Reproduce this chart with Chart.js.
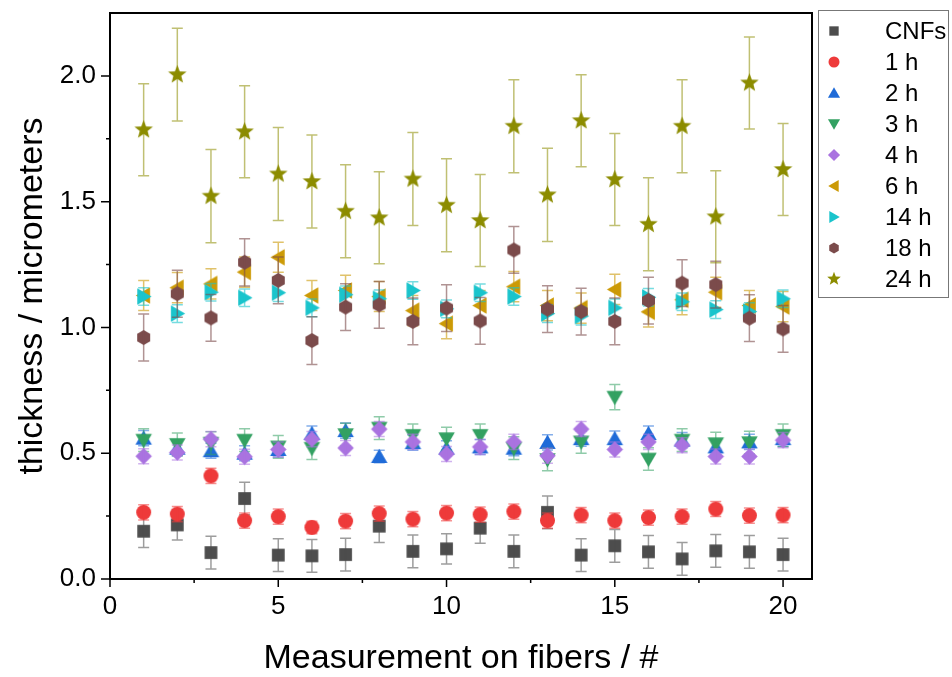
<!DOCTYPE html>
<html lang="en">
<head>
    <meta charset="UTF-8">
    <title>Fiber thickness</title>
    <script src="https://cdn.jsdelivr.net/npm/chart.js@4/dist/chart.umd.min.js"></script>
    <style>
        body { margin: 0; background: #fff; }
        #wrap { width: 952px; height: 677px; }
    </style>
</head>
<body>
    <div id="wrap"><canvas id="thicknessChart" width="952" height="677"></canvas></div>

    <script>
        // measurement number on the fiber
        const fibers = [1, 2, 3, 4, 5, 6, 7, 8, 9, 10, 11, 12, 13, 14, 15, 16, 17, 18, 19, 20];

        const seriesNames = ['CNFs', '1 h', '2 h', '3 h', '4 h', '6 h', '14 h', '18 h', '24 h'];

        // mean thickness (micrometers)
        const cnfs  = [0.19, 0.215, 0.105, 0.32, 0.095, 0.092, 0.097, 0.21, 0.11, 0.12, 0.202, 0.11, 0.265, 0.095, 0.132, 0.108, 0.08, 0.112, 0.108, 0.097];
        const h1    = [0.265, 0.258, 0.41, 0.232, 0.248, 0.205, 0.23, 0.26, 0.238, 0.262, 0.256, 0.268, 0.232, 0.254, 0.232, 0.244, 0.248, 0.278, 0.252, 0.254];
        const h2    = [0.56, 0.52, 0.51, 0.50, 0.515, 0.578, 0.59, 0.487, 0.542, 0.52, 0.525, 0.52, 0.543, 0.558, 0.558, 0.578, 0.552, 0.525, 0.545, 0.558];
        const h3    = [0.552, 0.535, 0.54, 0.552, 0.525, 0.52, 0.574, 0.60, 0.571, 0.558, 0.571, 0.52, 0.475, 0.545, 0.723, 0.477, 0.552, 0.538, 0.542, 0.571];
        const h4    = [0.488, 0.503, 0.556, 0.486, 0.515, 0.556, 0.521, 0.596, 0.545, 0.497, 0.525, 0.545, 0.49, 0.596, 0.515, 0.545, 0.532, 0.487, 0.487, 0.552];
        const h6    = [1.127, 1.158, 1.173, 1.22, 1.279, 1.127, 1.147, 1.123, 1.067, 1.015, 1.087, 1.162, 1.087, 1.077, 1.151, 1.062, 1.11, 1.14, 1.087, 1.083];
        const h14   = [1.123, 1.055, 1.14, 1.118, 1.138, 1.078, 1.13, 1.114, 1.147, 1.074, 1.138, 1.123, 1.055, 1.045, 1.078, 1.12, 1.102, 1.071, 1.063, 1.114];
        const h18   = [0.96, 1.134, 1.038, 1.259, 1.187, 0.948, 1.081, 1.09, 1.024, 1.077, 1.026, 1.308, 1.073, 1.063, 1.024, 1.107, 1.176, 1.17, 1.037, 0.994];
        const h24   = [1.786, 2.005, 1.522, 1.778, 1.61, 1.58, 1.462, 1.436, 1.59, 1.486, 1.425, 1.8, 1.527, 1.822, 1.588, 1.41, 1.8, 1.44, 1.972, 1.628];

        // standard deviations
        const errCnfs = [0.065, 0.06, 0.065, 0.065, 0.065, 0.065, 0.065, 0.065, 0.065, 0.06, 0.06, 0.065, 0.065, 0.065, 0.065, 0.065, 0.065, 0.065, 0.065, 0.065];
        const errH1   = [0.03, 0.03, 0.03, 0.03, 0.03, 0.025, 0.03, 0.03, 0.03, 0.03, 0.03, 0.03, 0.03, 0.03, 0.03, 0.03, 0.03, 0.03, 0.03, 0.03];
        const errH2   = [0.03, 0.03, 0.03, 0.03, 0.03, 0.03, 0.03, 0.025, 0.03, 0.03, 0.03, 0.03, 0.03, 0.03, 0.03, 0.03, 0.03, 0.03, 0.03, 0.03];
        const errH3   = [0.045, 0.045, 0.045, 0.045, 0.045, 0.045, 0.045, 0.045, 0.045, 0.045, 0.045, 0.045, 0.045, 0.045, 0.05, 0.045, 0.045, 0.045, 0.045, 0.045];
        const errH4   = [0.03, 0.03, 0.03, 0.03, 0.03, 0.03, 0.03, 0.03, 0.03, 0.03, 0.03, 0.03, 0.03, 0.03, 0.03, 0.03, 0.03, 0.03, 0.03, 0.03];
        const errH6   = [0.06, 0.06, 0.06, 0.06, 0.06, 0.06, 0.06, 0.06, 0.06, 0.06, 0.06, 0.06, 0.06, 0.06, 0.06, 0.06, 0.06, 0.06, 0.06, 0.06];
        const errH14  = [0.035, 0.035, 0.035, 0.035, 0.035, 0.035, 0.035, 0.035, 0.035, 0.035, 0.035, 0.035, 0.035, 0.035, 0.035, 0.035, 0.035, 0.035, 0.035, 0.035];
        const errH18  = [0.093, 0.093, 0.093, 0.094, 0.093, 0.095, 0.093, 0.093, 0.093, 0.093, 0.093, 0.093, 0.093, 0.093, 0.093, 0.093, 0.093, 0.093, 0.093, 0.093];
        const errH24  = [0.183, 0.184, 0.185, 0.183, 0.185, 0.185, 0.185, 0.183, 0.185, 0.185, 0.183, 0.185, 0.185, 0.183, 0.183, 0.185, 0.185, 0.183, 0.183, 0.183];

        const values = [cnfs, h1, h2, h3, h4, h6, h14, h18, h24];
        const errors = [errCnfs, errH1, errH2, errH3, errH4, errH6, errH14, errH18, errH24];

        const colors   = ['#4d4d4d', '#ee3a3a', '#1f6bd8', '#33a162', '#aa73e0', '#cc9a06', '#1ac4cc', '#7b4b4b', '#8c8c00'];
        const barColors = ['rgba(77,77,77,0.55)', 'rgba(238,58,58,0.55)', 'rgba(31,107,216,0.55)', 'rgba(51,161,98,0.55)',
                           'rgba(170,115,224,0.55)', 'rgba(204,154,6,0.6)', 'rgba(26,196,204,0.6)', 'rgba(123,75,75,0.6)', 'rgba(140,140,0,0.55)'];
        const shapes = ['square', 'circle', 'up', 'down', 'diamond', 'left', 'right', 'hexagon', 'star'];

        function makeMarker(shape, color, s) {
            const c = document.createElement('canvas');
            const size = Math.ceil(s * 1.4) + 2;
            c.width = size; c.height = size;
            const g = c.getContext('2d');
            const m = size / 2, r = s / 2;
            g.fillStyle = color;
            g.beginPath();
            if (shape === 'square') {
                g.rect(m - r * 0.85, m - r * 0.85, r * 1.7, r * 1.7);
            } else if (shape === 'circle') {
                g.arc(m, m, r, 0, Math.PI * 2);
            } else if (shape === 'up') {
                g.moveTo(m, m - r * 1.05); g.lineTo(m + r * 1.1, m + r * 0.85); g.lineTo(m - r * 1.1, m + r * 0.85);
            } else if (shape === 'down') {
                g.moveTo(m, m + r * 1.05); g.lineTo(m + r * 1.1, m - r * 0.85); g.lineTo(m - r * 1.1, m - r * 0.85);
            } else if (shape === 'left') {
                g.moveTo(m - r * 1.05, m); g.lineTo(m + r * 0.85, m - r * 1.1); g.lineTo(m + r * 0.85, m + r * 1.1);
            } else if (shape === 'right') {
                g.moveTo(m + r * 1.05, m); g.lineTo(m - r * 0.85, m - r * 1.1); g.lineTo(m - r * 0.85, m + r * 1.1);
            } else if (shape === 'diamond') {
                g.moveTo(m, m - r * 1.1); g.lineTo(m + r * 1.1, m); g.lineTo(m, m + r * 1.1); g.lineTo(m - r * 1.1, m);
            } else if (shape === 'hexagon') {
                for (let i = 0; i < 6; i++) {
                    const a = -Math.PI / 2 + i * Math.PI / 3;
                    g.lineTo(m + r * Math.cos(a), m + r * Math.sin(a));
                }
            } else if (shape === 'star') {
                for (let i = 0; i < 10; i++) {
                    const a = -Math.PI / 2 + i * Math.PI / 5;
                    const rr = i % 2 === 0 ? r * 1.3 : r * 0.55;
                    g.lineTo(m + rr * Math.cos(a), m + rr * Math.sin(a));
                }
            }
            g.closePath();
            g.fill();
            return c;
        }

        const plotMarkers = shapes.map((s, i) => makeMarker(s, colors[i], 15));
        const legendMarkers = shapes.map((s, i) => makeMarker(s, colors[i], 11));

        const datasets = seriesNames.map((name, i) => ({
            label: name,
            data: fibers.map((x, j) => ({ x: x, y: values[i][j] })),
            errors: errors[i],
            errColor: barColors[i],
            pointStyle: plotMarkers[i],
            order: 9 - i,
            showLine: false
        }));

        const errorBars = {
            id: 'errorBars',
            afterDatasetDraw(chart, args) {
                const ds = chart.data.datasets[args.index];
                const meta = args.meta;
                const yScale = chart.scales.y;
                const ctx = chart.ctx;
                ctx.save();
                ctx.strokeStyle = ds.errColor;
                ctx.lineWidth = 1.5;
                meta.data.forEach((pt, j) => {
                    const v = ds.data[j].y, e = ds.errors[j];
                    const yt = yScale.getPixelForValue(v + e);
                    const yb = yScale.getPixelForValue(v - e);
                    const x = pt.x;
                    ctx.beginPath();
                    ctx.moveTo(x, yt); ctx.lineTo(x, yb);
                    ctx.moveTo(x - 5.5, yt); ctx.lineTo(x + 5.5, yt);
                    ctx.moveTo(x - 5.5, yb); ctx.lineTo(x + 5.5, yb);
                    ctx.stroke();
                });
                ctx.restore();
            }
        };

        const frameAndLegend = {
            id: 'frameAndLegend',
            afterDraw(chart) {
                const ctx = chart.ctx;
                const a = chart.chartArea;
                const xs = chart.scales.x, ys = chart.scales.y;
                ctx.save();
                ctx.strokeStyle = '#000';
                ctx.lineWidth = 2;
                ctx.strokeRect(a.left, a.top, a.right - a.left, a.bottom - a.top);
                // tick marks
                ctx.lineWidth = 1.5;
                ctx.beginPath();
                for (let v = 0; v <= 20; v += 2.5) {
                    const px = xs.getPixelForValue(v);
                    const len = v % 5 === 0 ? 8 : 4;
                    ctx.moveTo(px, a.bottom); ctx.lineTo(px, a.bottom + len);
                }
                for (let v = 0; v <= 2.01; v += 0.25) {
                    const py = ys.getPixelForValue(v);
                    const len = Math.abs(v * 2 - Math.round(v * 2)) < 0.01 ? 9 : 4;
                    ctx.moveTo(a.left, py); ctx.lineTo(a.left - len, py);
                }
                ctx.stroke();

                // legend box
                ctx.strokeStyle = '#777';
                ctx.lineWidth = 1;
                ctx.strokeRect(818.5, 10.5, 130, 287);
                ctx.fillStyle = '#000';
                ctx.font = '24px "Liberation Sans", Arial, sans-serif';
                ctx.textBaseline = 'middle';
                seriesNames.forEach((name, i) => {
                    const y = 31 + i * 31;
                    const mk = legendMarkers[i];
                    ctx.drawImage(mk, 834 - mk.width / 2, y - mk.height / 2);
                    ctx.fillText(name, 885, y + 1);
                });
                ctx.restore();
            }
        };

        const tickFont = { family: '"Liberation Sans", Arial, sans-serif', size: 26 };
        const titleFont = { family: '"Liberation Sans", Arial, sans-serif', size: 34, lineHeight: 1.1 };

        new Chart(document.getElementById('thicknessChart'), {
            type: 'scatter',
            data: { datasets: datasets },
            options: {
                responsive: false,
                animation: false,
                events: [],
                layout: { padding: { top: 13, right: 140, left: 0, bottom: 0 } },
                plugins: { legend: { display: false }, tooltip: { enabled: false } },
                elements: { point: { radius: 7 } },
                scales: {
                    x: {
                        type: 'linear',
                        min: 0,
                        max: 20.86,
                        afterFit: s => { s.height = 98; s.paddingLeft = 0; s.paddingRight = 0; },
                        afterBuildTicks: s => { s.ticks = [0, 5, 10, 15, 20].map(v => ({ value: v })); },
                        grid: { display: false, drawTicks: false },
                        border: { display: false },
                        ticks: { font: tickFont, color: '#000', padding: 12, maxRotation: 0 },
                        title: { display: true, text: 'Measurement on fibers / #', font: titleFont, color: '#000', padding: 0 }
                    },
                    y: {
                        type: 'linear',
                        min: 0,
                        max: 2.25,
                        afterFit: s => { s.width = 110; s.paddingTop = 0; s.paddingBottom = 0; },
                        afterBuildTicks: s => { s.ticks = [0, 0.5, 1, 1.5, 2].map(v => ({ value: v })); },
                        grid: { display: false, drawTicks: false },
                        border: { display: false },
                        ticks: { font: tickFont, color: '#000', padding: 14, callback: v => v.toFixed(1) },
                        title: { display: true, text: 'thickness / micrometers', font: titleFont, color: '#000', padding: { top: 14, bottom: 0 } }
                    }
                }
            },
            plugins: [errorBars, frameAndLegend]
        });
    </script>
</body>
</html>
